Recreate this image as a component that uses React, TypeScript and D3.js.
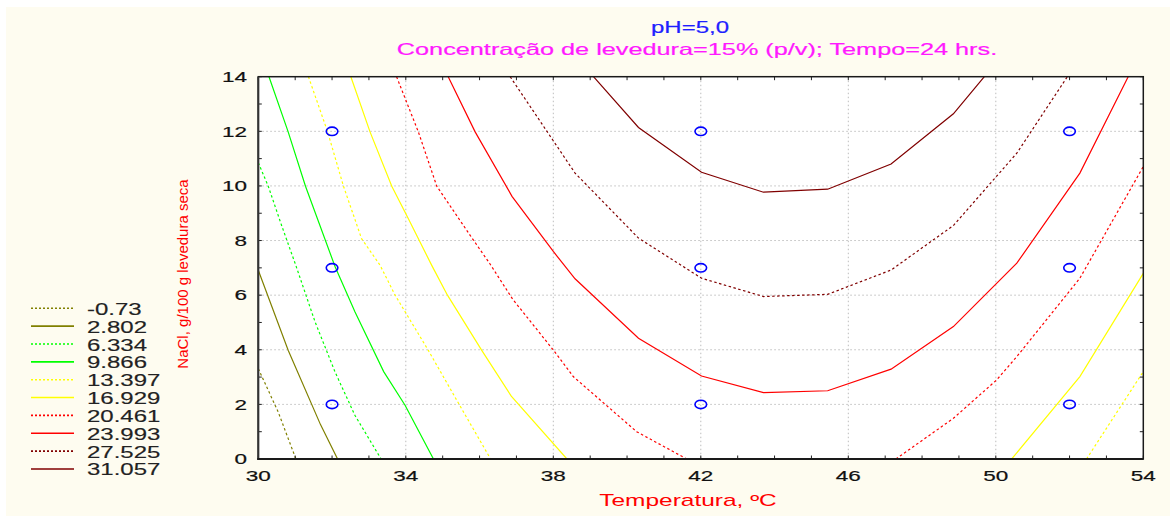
import React from "react";
import * as d3 from "d3";

const W = 1170;
const H = 516;

const LEVELS = [-0.73, 2.802, 6.334, 9.866, 13.397, 16.929, 20.461, 23.993, 27.525, 31.057];
const LEVEL_LABELS = ["-0.73", "2.802", "6.334", "9.866", "13.397", "16.929", "20.461", "23.993", "27.525", "31.057"];
const LEVEL_COLORS = ["#808000", "#808000", "#00ff00", "#00ff00", "#ffff00", "#ffff00", "#ff0000", "#ff0000", "#800000", "#800000"];
const LEVEL_DOTTED = [true, false, true, false, true, false, true, false, true, false];

// Contour polylines: [Temperatura, NaCl]
const C_M073 = [[30, 3.31], [30.54, 1.72], [31.02, 0]];
const C_2802 = [[30, 6.91], [30.81, 3.98], [31.69, 1.25], [32.15, 0]];
const C_6334 = [[30, 10.85], [30.27, 9.99], [30.63, 8.56], [31.01, 7.12], [31.54, 5.02], [32.08, 3.19], [32.62, 1.6], [33.33, 0]];
const C_9866 = [[30.29, 14], [30.81, 11.98], [31.28, 9.99], [32.08, 7.05], [32.62, 5.39], [33.4, 3.2], [33.98, 1.97], [34.75, 0]];
const C_13397_A = [[31.36, 14], [31.88, 11.98], [32.31, 9.99], [32.8, 8.07], [33.3, 7.1], [33.71, 6.0], [34.61, 3.98], [35.51, 1.85], [36.3, 0]];
const C_13397_B = [[52.46, 0], [54, 3.2]];
const C_16929_A = [[32.51, 14], [33.03, 11.98], [33.62, 9.99], [34.07, 8.8], [34.7, 7.1], [35.13, 6.0], [36.06, 3.98], [36.86, 2.3], [38.37, 0]];
const C_16929_B = [[50.43, 0], [52.28, 3.02], [54, 6.8]];
const C_20461_A = [[33.75, 14], [34.34, 11.98], [34.84, 9.99], [35.74, 8.2], [36.28, 7.15], [36.9, 5.85], [38.0, 3.99], [38.54, 3.02], [40.26, 1.0], [41.62, 0]];
const C_20461_B = [[47.29, 0], [48.85, 1.49], [50.02, 2.89], [50.57, 3.75], [52.28, 6.62], [54, 10.71]];
const C_23993 = [[35.15, 14], [35.88, 11.98], [36.88, 9.62], [38.0, 7.6], [38.59, 6.6], [40.31, 4.42], [42.02, 3.04], [43.7, 2.43], [45.44, 2.5], [47.16, 3.29], [48.85, 4.85], [50.57, 7.17], [52.28, 10.47], [53.59, 14]];
const C_27525 = [[36.83, 14], [38.59, 10.47], [40.31, 8.09], [42.02, 6.62], [43.7, 5.95], [45.44, 6.03], [47.16, 6.92], [48.85, 8.55], [50.57, 11.2], [51.94, 14]];
const C_31057 = [[39.09, 14], [40.31, 12.14], [42.02, 10.5], [43.7, 9.77], [45.44, 9.88], [47.16, 10.8], [48.85, 12.64], [49.69, 14]];

const CONTOURS: { level: number; pts: number[][] }[] = [
  { level: 0, pts: C_M073 },
  { level: 1, pts: C_2802 },
  { level: 2, pts: C_6334 },
  { level: 3, pts: C_9866 },
  { level: 4, pts: C_13397_A },
  { level: 4, pts: C_13397_B },
  { level: 5, pts: C_16929_A },
  { level: 5, pts: C_16929_B },
  { level: 6, pts: C_20461_A },
  { level: 6, pts: C_20461_B },
  { level: 7, pts: C_23993 },
  { level: 8, pts: C_27525 },
  { level: 9, pts: C_31057 },
];

const DESIGN_TEMPS = [32, 42, 52];
const DESIGN_NACL = [2, 7, 12];

const X_TICKS = [30, 34, 38, 42, 46, 50, 54];
const Y_TICKS = [0, 2, 4, 6, 8, 10, 12, 14];

const FONT = "'Liberation Sans', Arial, sans-serif";
const SX = 1.5; // horizontal stretch of the lettering

export default function App() {
  const left = 258.3, right = 1143.3, top = 76.7, bottom = 459;
  const x = d3.scaleLinear().domain([30, 54]).range([left, right]);
  const y = d3.scaleLinear().domain([0, 14]).range([bottom, top]);
  const line = d3.line<number[]>().x((d) => x(d[0])).y((d) => y(d[1]));

  const minorX = d3.range(30, 55, 1);
  const minorY = d3.range(0, 15, 1);
  const tickLen = 3.5;

  return (
    <svg width={W} height={H} style={{ position: "absolute", left: 0, top: 0, display: "block" }}>
      <rect x={0} y={0} width={W} height={H} fill="#ffffff" />
      <rect x={6} y={7} width={W - 6} height={H - 7} fill="#fefcf0" />

      {/* titles */}
      <text transform={`translate(690,33) scale(${SX},1)`} textAnchor="middle" fontFamily={FONT} fontSize={16} fill="#1f1fff" stroke="#1f1fff" strokeWidth={0.2}>
        pH=5,0
      </text>
      <text transform={`translate(697,55) scale(1.55,1)`} textAnchor="middle" fontFamily={FONT} fontSize={16.3} fill="#ff1aff" stroke="#ff1aff" strokeWidth={0.2}>
        Concentração de levedura=15% (p/v); Tempo=24 hrs.
      </text>

      {/* plot area */}
      <rect x={left} y={top} width={right - left} height={bottom - top} fill="#ffffff" />

      {/* grid */}
      {X_TICKS.slice(1, -1).map((t) => (
        <line key={"gx" + t} x1={x(t)} x2={x(t)} y1={top} y2={bottom} stroke="#bdbdbd" strokeWidth={1} strokeDasharray="1.5,2.5" />
      ))}
      {Y_TICKS.slice(1, -1).map((t) => (
        <line key={"gy" + t} x1={left} x2={right} y1={y(t)} y2={y(t)} stroke="#bdbdbd" strokeWidth={1} strokeDasharray="1.5,2.5" />
      ))}

      {/* contours */}
      <defs>
        <clipPath id="plotclip">
          <rect x={left} y={top} width={right - left} height={bottom - top} />
        </clipPath>
      </defs>
      <g clipPath="url(#plotclip)">
        {CONTOURS.map((c, i) => (
          <path
            key={"c" + i}
            d={line(c.pts) || ""}
            fill="none"
            stroke={LEVEL_COLORS[c.level]}
            strokeWidth={1.2}
            strokeDasharray={LEVEL_DOTTED[c.level] ? "2.5,2.5" : undefined}
          />
        ))}
      </g>

      {/* design points */}
      {DESIGN_TEMPS.map((t) =>
        DESIGN_NACL.map((n) => (
          <ellipse key={`p${t}-${n}`} cx={x(t)} cy={y(n)} rx={5.8} ry={4.2} fill="none" stroke="#0000ff" strokeWidth={1.6} />
        ))
      )}

      {/* ticks */}
      {minorX.map((t) => (
        <g key={"tx" + t}>
          <line x1={x(t)} x2={x(t)} y1={bottom} y2={bottom - tickLen} stroke="#222" strokeWidth={1} />
          <line x1={x(t)} x2={x(t)} y1={top} y2={top + tickLen} stroke="#222" strokeWidth={1} />
        </g>
      ))}
      {minorY.map((t) => (
        <g key={"ty" + t}>
          <line x1={left} x2={left + tickLen} y1={y(t)} y2={y(t)} stroke="#222" strokeWidth={1} />
          <line x1={right} x2={right - tickLen} y1={y(t)} y2={y(t)} stroke="#222" strokeWidth={1} />
        </g>
      ))}

      {/* frame */}
      <rect x={left} y={top} width={right - left} height={bottom - top} fill="none" stroke="#1a1a1a" strokeWidth={1.5} />
      <line x1={left} x2={left} y1={top} y2={bottom + 1} stroke="#333" strokeWidth={2} />
      <line x1={left - 1} x2={right} y1={bottom} y2={bottom} stroke="#1a1a1a" strokeWidth={2} />

      {/* tick labels */}
      {X_TICKS.map((t) => (
        <text key={"lx" + t} transform={`translate(${x(t)},480.5) scale(${SX},1)`} textAnchor="middle" fontFamily={FONT} fontSize={15} fill="#111" stroke="#111" strokeWidth={0.2}>
          {t}
        </text>
      ))}
      {Y_TICKS.map((t) => (
        <text key={"ly" + t} transform={`translate(247,${y(t) + 5.3}) scale(${SX},1)`} textAnchor="end" fontFamily={FONT} fontSize={15} fill="#111" stroke="#111" strokeWidth={0.2}>
          {t}
        </text>
      ))}

      {/* axis titles */}
      <text transform={`translate(688,506) scale(1.53,1)`} textAnchor="middle" fontFamily={FONT} fontSize={16} fill="#ff0000">
        Temperatura, ºC
      </text>
      <text transform="translate(188,274) rotate(-90)" textAnchor="middle" fontFamily={FONT} fontSize={15} fill="#ff0000">
        NaCl, g/100 g levedura seca
      </text>

      {/* legend */}
      {LEVELS.map((lv, i) => {
        const ly = 308.3 + i * 17.85;
        return (
          <g key={"lg" + lv}>
            <line x1={31} x2={74} y1={ly} y2={ly} stroke={LEVEL_COLORS[i]} strokeWidth={1.6} strokeDasharray={LEVEL_DOTTED[i] ? "2,2" : undefined} />
            <text transform={`translate(87,${ly + 6.5}) scale(${SX},1)`} fontFamily={FONT} fontSize={16} fill="#222" stroke="#222" strokeWidth={0.15}>
              {LEVEL_LABELS[i]}
            </text>
          </g>
        );
      })}
    </svg>
  );
}
